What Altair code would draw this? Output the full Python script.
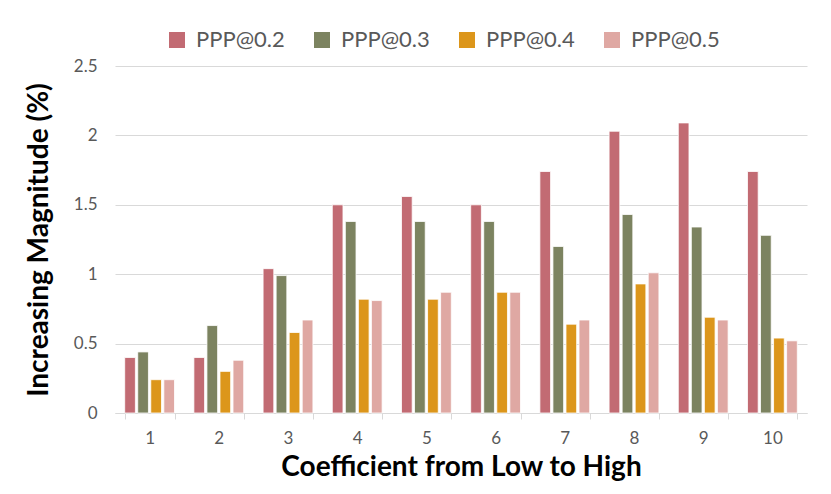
import altair as alt
import pandas as pd

categories = ["1", "2", "3", "4", "5", "6", "7", "8", "9", "10"]
series = ["PPP@0.2", "PPP@0.3", "PPP@0.4", "PPP@0.5"]
ppp02 = [0.40, 0.40, 1.04, 1.50, 1.56, 1.50, 1.74, 2.03, 2.09, 1.74]
ppp03 = [0.44, 0.63, 0.99, 1.38, 1.38, 1.38, 1.20, 1.43, 1.34, 1.28]
ppp04 = [0.24, 0.30, 0.58, 0.82, 0.82, 0.87, 0.64, 0.93, 0.69, 0.54]
ppp05 = [0.24, 0.38, 0.67, 0.81, 0.87, 0.87, 0.67, 1.01, 0.67, 0.52]
colors = ["#C26B73", "#7C8360", "#DC961B", "#DFA8A3"]

rows = []
for s, vals in zip(series, [ppp02, ppp03, ppp04, ppp05]):
    for c, v in zip(categories, vals):
        rows.append({"cat": c, "series": s, "value": v})
df = pd.DataFrame(rows)

FONT = "Lato"

chart = alt.Chart(df).mark_bar(stroke="white", strokeWidth=0.8).encode(
    x=alt.X("cat:N", sort=categories, title="Coefficient from Low to High",
            scale=alt.Scale(paddingInner=0.28, paddingOuter=0.14),
            axis=alt.Axis(labelAngle=0, tickBand="extent", domainColor="#D9D9D9",
                          tickColor="#D9D9D9", tickSize=6, labelColor="#595959",
                          labelFontSize=17, labelPadding=11, titleFontSize=28,
                          titleFontWeight="bold", titleColor="#000000", titlePadding=7,
                          labelFont=FONT, titleFont=FONT, grid=False)),
    xOffset=alt.XOffset("series:N", sort=series, scale=alt.Scale(paddingInner=0.18)),
    y=alt.Y("value:Q", title="Increasing Magnitude (%)",
            scale=alt.Scale(domain=[0, 2.5]),
            axis=alt.Axis(values=[0, 0.5, 1, 1.5, 2, 2.5], labelExpr="datum.value",
                          domain=False, ticks=False, gridColor="#D9D9D9",
                          labelColor="#595959", labelFontSize=17, labelPadding=18,
                          titleFontSize=28, titleFontWeight="bold", titleColor="#000000",
                          titlePadding=20, labelFont=FONT, titleFont=FONT)),
    color=alt.Color("series:N", sort=series,
                    scale=alt.Scale(domain=series, range=colors),
                    legend=alt.Legend(title=None, orient="none", direction="horizontal",
                                      legendX=51, legendY=-37, symbolType="square",
                                      symbolSize=256, symbolStrokeWidth=0,
                                      labelFontSize=22, labelColor="#595959",
                                      labelFont=FONT, columnPadding=26, labelOffset=8)),
).properties(width=692, height=347, padding={"left": 17, "top": 21, "right": 10, "bottom": 5}
).configure_view(stroke=None)

chart.save("out.html", embed_options={"renderer": "svg", "actions": False})
